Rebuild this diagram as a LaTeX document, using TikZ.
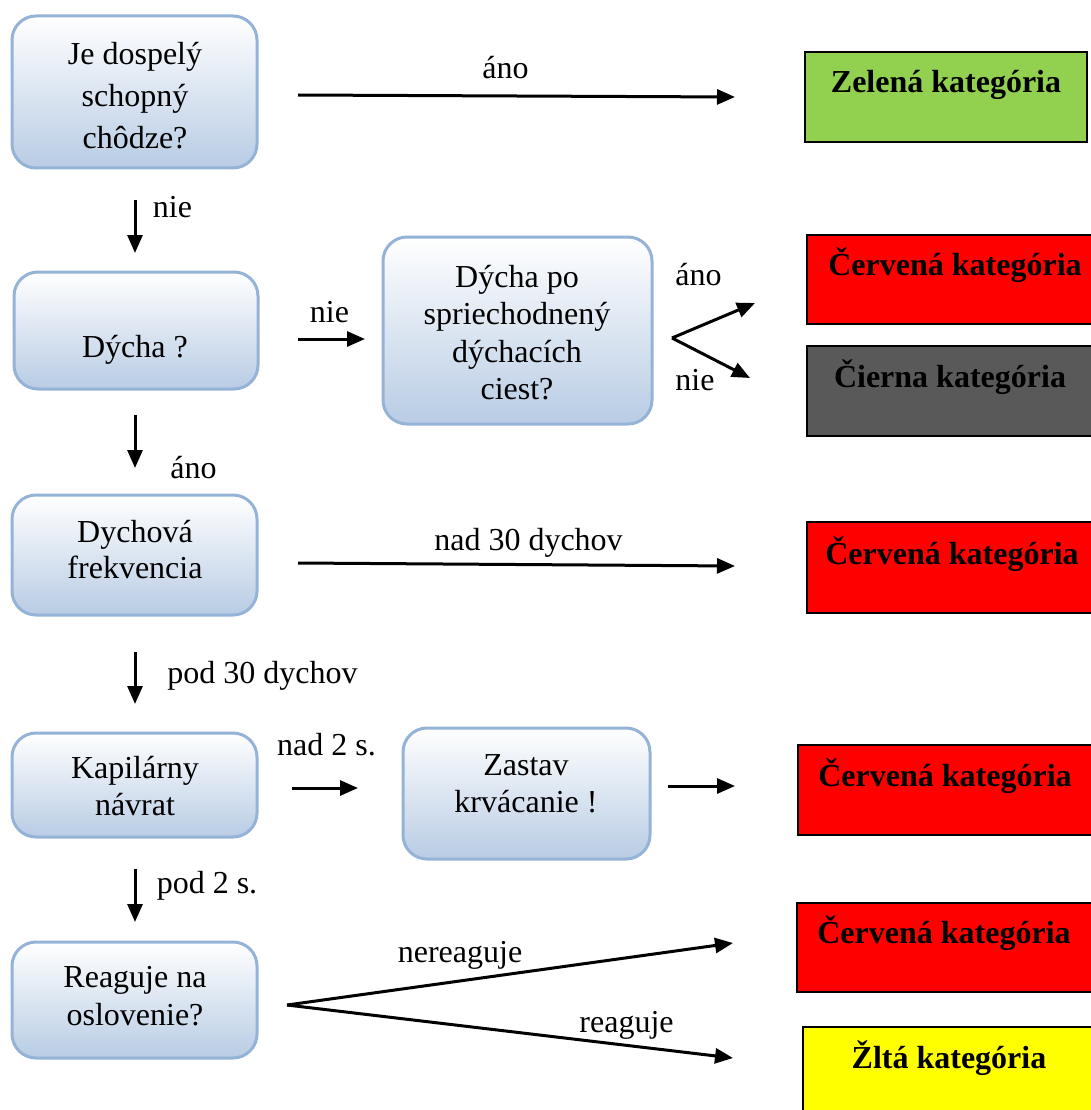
\documentclass[tikz,border=0pt]{standalone}
\usepackage{fontspec}
\setmainfont{Liberation Serif}
\usetikzlibrary{arrows.meta}
\definecolor{boxedge}{HTML}{95B3D7}
\definecolor{boxbot}{HTML}{B8CCE4}
\definecolor{catgreen}{HTML}{92D050}
\definecolor{catred}{HTML}{FF0000}
\definecolor{catgray}{HTML}{595959}
\definecolor{catyellow}{HTML}{FFFF00}
\begin{document}
\begin{tikzpicture}[x=1pt,y=-1pt,
  qbox/.style={draw=boxedge, line width=3pt, rounded corners=24pt, top color=white, bottom color=boxbot, inner sep=0pt},
  qtext/.style={align=center, inner sep=0pt},
  lab/.style={font=\fontsize{32}{37}\selectfont, anchor=base, inner sep=0pt},
  catbox/.style={draw=black, line width=2.8pt, inner sep=0pt},
  cattext/.style={font=\fontsize{32}{37}\selectfont\bfseries, anchor=base, inner sep=0pt},
  arr/.style={line width=3pt, -{Triangle[length=18pt,width=15pt]}}]
\useasboundingbox (0,0) rectangle (1091,1110);
\fill[white] (0,0) rectangle (1091,1110);
\clip (0,0) rectangle (1091,1110);

% question boxes
\node[qbox, minimum width=245pt, minimum height=152pt] (b1) at (134.5,92) {};
\node[qbox, minimum width=244pt, minimum height=117pt] (b2) at (136,330.5) {};
\node[qbox, minimum width=269pt, minimum height=187pt] (b3) at (517.5,330.5) {};
\node[qbox, minimum width=245pt, minimum height=120pt] (b4) at (134.5,555) {};
\node[qbox, minimum width=245pt, minimum height=104pt] (b5) at (134.5,785) {};
\node[qbox, minimum width=247pt, minimum height=131pt] (b6) at (526.5,793.5) {};
\node[qbox, minimum width=245pt, minimum height=116pt] (b7) at (134.5,1000) {};

\node[qtext, font=\fontsize{32}{42}\selectfont] (t1) at (135,98.6) {\strut Je dospelý\\schopný\\chôdze?\strut};
\node[qtext, font=\fontsize{32}{37}\selectfont] (t2) at (135,349.6) {\strut Dýcha ?\strut};
\node[qtext, font=\fontsize{32}{37.5}\selectfont] (t3) at (517,335.8) {\strut Dýcha po\\spriechodnený\\dýchacích\\ciest?\strut};
\node[qtext, font=\fontsize{32}{36}\selectfont] (t4) at (135,552.8) {\strut Dychová\\frekvencia\strut};
\node[qtext, font=\fontsize{32}{37}\selectfont] (t5) at (135,789.1) {\strut Kapilárny\\návrat\strut};
\node[qtext, font=\fontsize{32}{37}\selectfont] (t6) at (526,786.1) {\strut Zastav\\krvácanie !\strut};
\node[qtext, font=\fontsize{32}{38}\selectfont] (t7) at (135,998.4) {\strut Reaguje na\\oslovenie?\strut};

% category boxes
\node[catbox, fill=catgreen, minimum width=282pt, minimum height=90pt] (c1) at (946,97) {};
\node[catbox, fill=catred, minimum width=293pt, minimum height=89pt] (c2) at (953.5,279.5) {};
\node[catbox, fill=catgray, minimum width=293pt, minimum height=90pt] (c3) at (953.5,391) {};
\node[catbox, fill=catred, minimum width=293pt, minimum height=91pt] (c4) at (953.5,567.5) {};
\node[catbox, fill=catred, minimum width=302pt, minimum height=90pt] (c5) at (949,790) {};
\node[catbox, fill=catred, minimum width=303pt, minimum height=89pt] (c6) at (948.5,947.5) {};
\node[catbox, fill=catyellow, minimum width=297pt, minimum height=93pt] (c7) at (951.5,1073.5) {};

\node[cattext] (ct1) at (946,93) {Zelená kategória};
\node[cattext] (ct2) at (955,275) {Červená kategória};
\node[cattext] (ct3) at (950,387) {Čierna kategória};
\node[cattext] (ct4) at (952,564) {Červená kategória};
\node[cattext] (ct5) at (945,786) {Červená kategória};
\node[cattext] (ct6) at (944,943) {Červená kategória};
\node[cattext] (ct7) at (949,1068) {Žltá kategória};

% arrow end points
\coordinate (a1s) at (298,95);  \coordinate (a1e) at (735,97);
\coordinate (a2s) at (135,200); \coordinate (a2e) at (135,253);
\coordinate (a3s) at (298,339); \coordinate (a3e) at (365,339);
\coordinate (f1) at (672,338);  \coordinate (f1u) at (755,303); \coordinate (f1d) at (750,378);
\coordinate (a5s) at (135,415); \coordinate (a5e) at (135,468);
\coordinate (a6s) at (298,563); \coordinate (a6e) at (735,566);
\coordinate (a7s) at (135,652); \coordinate (a7e) at (135,704);
\coordinate (a8s) at (292,788); \coordinate (a8e) at (358,788);
\coordinate (a9s) at (668,786); \coordinate (a9e) at (735,786);
\coordinate (a10s) at (135,869); \coordinate (a10e) at (135,922);
\coordinate (f2) at (287,1005); \coordinate (f2u) at (733,943); \coordinate (f2d) at (733,1058);

\draw[arr] (a1s) -- (a1e);
\draw[arr] (a2s) -- (a2e);
\draw[arr] (a3s) -- (a3e);
\draw[arr] (f1) -- (f1u);
\draw[arr] (f1) -- (f1d);
\draw[arr] (a5s) -- (a5e);
\draw[arr] (a6s) -- (a6e);
\draw[arr] (a7s) -- (a7e);
\draw[arr] (a8s) -- (a8e);
\draw[arr] (a9s) -- (a9e);
\draw[arr] (a10s) -- (a10e);
\draw[arr] (f2) -- (f2u);
\draw[arr] (f2) -- (f2d);

% labels
\node[lab] (l1) at (505.5,79) {áno};
\node[lab] (l2) at (172.5,217) {nie};
\node[lab] (l3) at (329.5,322) {nie};
\node[lab] (l4) at (698.5,285) {áno};
\node[lab] (l5) at (695,390) {nie};
\node[lab] (l6) at (193.5,478) {áno};
\node[lab] (l7) at (528.5,550) {nad 30 dychov};
\node[lab] (l8) at (262.5,683) {pod 30 dychov};
\node[lab] (l9) at (326.5,755) {nad 2 s.};
\node[lab] (l10) at (207,893) {pod 2 s.};
\node[lab] (l11) at (460,962) {nereaguje};
\node[lab] (l12) at (626.5,1032) {reaguje};
\end{tikzpicture}
\end{document}
